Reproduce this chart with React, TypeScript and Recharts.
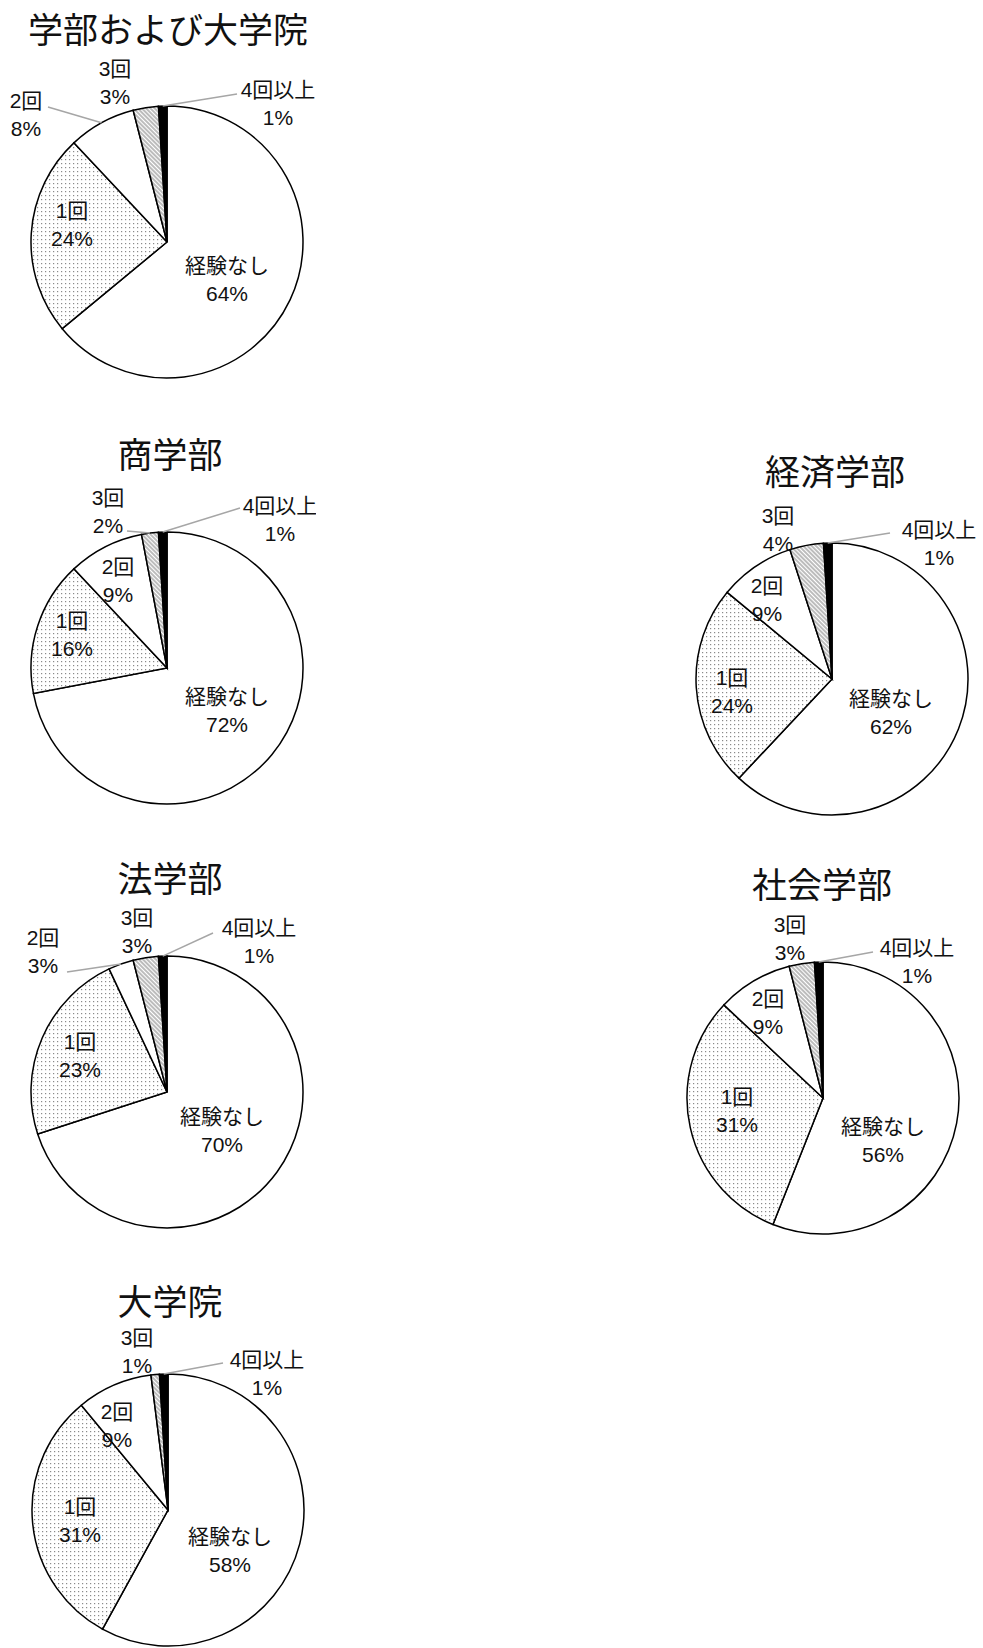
import React from 'react';
import { PieChart, Pie, Cell } from 'recharts';

const categories = ['経験なし', '1回', '2回', '3回', '4回以上'];

const titles = ['学部および大学院', '商学部', '経済学部', '法学部', '社会学部', '大学院'];

const allStudents = [64, 24, 8, 3, 1];
const commerce = [72, 16, 9, 2, 1];
const economics = [62, 24, 9, 4, 1];
const law = [70, 23, 3, 3, 1];
const sociology = [56, 31, 9, 3, 1];
const graduate = [58, 31, 9, 1, 1];

const seriesList = [allStudents, commerce, economics, law, sociology, graduate];

// pie centres and title centres on the page
const pieCenters = [
  [167, 242], [167, 668], [832, 679], [167, 1092], [823, 1098], [168, 1510],
];
const titleCenters = [
  [168, 28], [170, 453], [835, 470], [170, 877], [822, 883], [170, 1300],
];

// label block offsets from the pie centre, optional leader start [dx, dy, lx, ly]
type LabelPos = number[];
const labelLayouts: LabelPos[][] = [
  [[60, 37], [-95, -18], [-141, -128, -119, -135], [-52, -160], [111, -139, 70, -148]],
  [[60, 42], [-95, -34], [-49, -88], [-59, -157, -40, -137], [113, -149, 73, -160]],
  [[59, 33], [-100, 12], [-65, -80], [-54, -150], [107, -136, 58, -146]],
  [[55, 38], [-87, -37], [-124, -141, -100, -120], [-30, -161], [92, -151, 46, -159]],
  [[60, 42], [-86, 12], [-55, -86], [-33, -160], [94, -137, 50, -146]],
  [[62, 40], [-88, 10], [-51, -85], [-31, -159], [99, -137, 55, -147]],
];

const CHART_W = 316;
const CHART_H = 420;
const PCX = 167;
const PCY = 260;
const RADIUS = 136;
const RAD = Math.PI / 180;

const font = '"Liberation Sans", Arial, "Noto Sans CJK JP", sans-serif';

function fills(i: number) {
  return ['#ffffff', `url(#dots${i})`, '#ffffff', `url(#hatch${i})`, '#000000'];
}

function SinglePie({ idx }: { idx: number }) {
  const values = seriesList[idx];
  const data = categories.map((name, k) => ({ name, value: values[k] }));
  const layout = labelLayouts[idx];
  const [px, py] = pieCenters[idx];

  const renderLabel = (props: any) => {
    const { cx, cy, midAngle, outerRadius, index } = props;
    const pos = layout[index];
    const x = cx + pos[0];
    const y = cy + pos[1];
    let leader = null;
    if (pos.length > 2) {
      const ex = cx + outerRadius * Math.cos(-midAngle * RAD);
      const ey = cy + outerRadius * Math.sin(-midAngle * RAD);
      leader = (
        <line x1={cx + pos[2]} y1={cy + pos[3]} x2={ex} y2={ey} stroke="#a6a6a6" strokeWidth={1.5} />
      );
    }
    return (
      <g key={`lbl-${index}`}>
        {leader}
        <text x={x} y={y - 14} textAnchor="middle" dominantBaseline="central" fontSize={21} fill="#111" fontFamily={font}>
          {data[index].name}
        </text>
        <text x={x} y={y + 14} textAnchor="middle" dominantBaseline="central" fontSize={21} fill="#111" fontFamily={font}>
          {`${data[index].value}%`}
        </text>
      </g>
    );
  };

  return (
    <div style={{ position: 'absolute', left: px - PCX, top: py - PCY, width: CHART_W, height: CHART_H }}>
      <PieChart width={CHART_W} height={CHART_H} margin={{ top: 0, right: 0, bottom: 0, left: 0 }}>
        <defs>
          <pattern id={`dots${idx}`} width={4} height={4} patternUnits="userSpaceOnUse">
            <rect width={4} height={4} fill="#ffffff" />
            <rect x={1} y={1} width={1.2} height={1.2} fill="#8a8a8a" />
          </pattern>
          <pattern id={`hatch${idx}`} width={4} height={3} patternUnits="userSpaceOnUse" patternTransform="rotate(45)">
            <rect width={4} height={3} fill="#ffffff" />
            <line x1={0} y1={1} x2={4} y2={1} stroke="#7a7a7a" strokeWidth={1} />
          </pattern>
        </defs>
        <Pie
          data={data}
          dataKey="value"
          nameKey="name"
          cx={PCX}
          cy={PCY}
          outerRadius={RADIUS}
          startAngle={90}
          endAngle={-270}
          stroke="#000000"
          strokeWidth={1.5}
          label={renderLabel}
          labelLine={false}
          isAnimationActive={false}
        >
          {data.map((d, k) => (
            <Cell key={d.name} fill={fills(idx)[k]} />
          ))}
        </Pie>
      </PieChart>
    </div>
  );
}

export default function App() {
  return (
    <div style={{ position: 'absolute', left: 0, top: 0, width: 983, height: 1648, overflow: 'hidden', background: '#fff' }}>
      {titles.map((t, i) => (
        <div
          key={t}
          style={{
            position: 'absolute',
            left: titleCenters[i][0] - 200,
            top: titleCenters[i][1] - 19,
            width: 400,
            height: 38,
            lineHeight: '38px',
            textAlign: 'center',
            fontSize: 35,
            fontFamily: '"Noto Sans CJK JP", sans-serif',
            color: '#111',
          }}
        >
          {t}
        </div>
      ))}
      {seriesList.map((_, i) => (
        <SinglePie key={i} idx={i} />
      ))}
    </div>
  );
}
